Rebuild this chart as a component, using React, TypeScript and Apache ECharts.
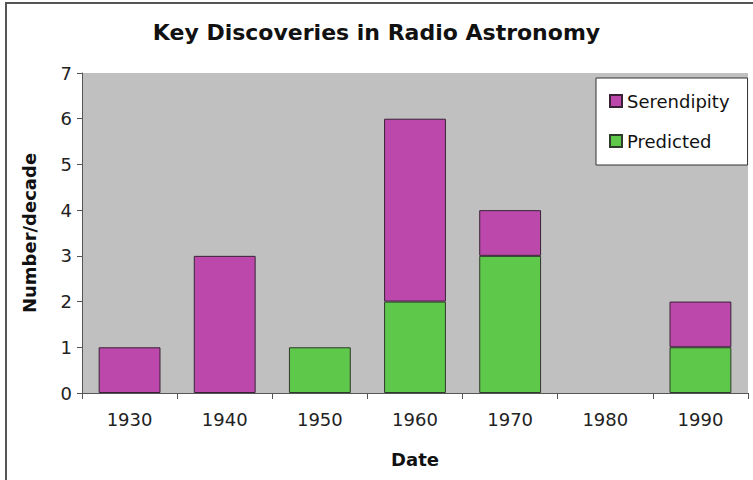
import React, { useEffect, useRef } from "react";
import * as echarts from "echarts";

const decades = ["1930", "1940", "1950", "1960", "1970", "1980", "1990"];
const predicted: (number | null)[] = [null, null, 1, 2, 3, null, 1];
const serendipity: (number | null)[] = [1, 3, null, 4, 1, null, 1];
const titleText = "Key Discoveries in Radio Astronomy";

export default function App() {
  const ref = useRef<HTMLDivElement>(null);
  useEffect(() => {
    if (!ref.current) return;
    const chart = echarts.init(ref.current, undefined, { renderer: "svg" });
    const font = "DejaVu Sans";
    chart.setOption({
      animation: false,
      backgroundColor: "#ffffff",
      title: {
        text: titleText,
        left: "center",
        top: 16,
        textStyle: { fontFamily: font, fontWeight: "bold", fontSize: 22, color: "#111" },
      },
      graphic: [
        {
          type: "rect",
          shape: { x: 6, y: 3, width: 800, height: 520 },
          style: { fill: "none", stroke: "#555", lineWidth: 2 },
          silent: true,
          z: 100,
        },
      ],
      legend: {
        data: ["Serendipity", "Predicted"],
        orient: "vertical",
        left: 596,
        top: 78,
        padding: [14, 18, 15, 13],
        itemGap: 22,
        itemWidth: 12,
        itemHeight: 12,
        icon: "rect",
        backgroundColor: "#ffffff",
        borderColor: "#333",
        borderWidth: 1,
        borderRadius: 0,
        textStyle: { fontFamily: font, fontSize: 18, color: "#111" },
      },
      grid: {
        left: 82,
        right: 5,
        top: 73,
        bottom: 87,
        show: true,
        backgroundColor: "#C0C0C0",
        borderWidth: 0,
      },
      xAxis: {
        type: "category",
        data: decades,
        name: "Date",
        nameLocation: "middle",
        nameGap: 57,
        nameTextStyle: { fontFamily: font, fontWeight: "bold", fontSize: 18, color: "#111" },
        axisLine: { show: true, lineStyle: { color: "#555", width: 1 } },
        axisTick: { show: true, length: 6, inside: false, lineStyle: { color: "#555" } },
        axisLabel: { fontFamily: font, fontSize: 18, color: "#222", margin: 17 },
      },
      yAxis: {
        type: "value",
        min: 0,
        max: 7,
        interval: 1,
        name: "Number/decade",
        nameLocation: "middle",
        nameGap: 44,
        nameRotate: 90,
        nameTextStyle: { fontFamily: font, fontWeight: "bold", fontSize: 18, color: "#111" },
        axisLine: { show: true, lineStyle: { color: "#555", width: 1 } },
        axisTick: { show: true, length: 5, inside: false, lineStyle: { color: "#555" } },
        axisLabel: { fontFamily: font, fontSize: 18, color: "#222", margin: 10 },
        splitLine: { show: false },
      },
      series: [
        {
          name: "Predicted",
          type: "bar",
          stack: "total",
          data: predicted,
          barCategoryGap: "35%",
          itemStyle: { color: "#5EC84B", borderColor: "#2e3a2a", borderWidth: 1 },
        },
        {
          name: "Serendipity",
          type: "bar",
          stack: "total",
          data: serendipity,
          barCategoryGap: "35%",
          itemStyle: { color: "#BC48AC", borderColor: "#3a2236", borderWidth: 1 },
        },
      ],
    });
    return () => chart.dispose();
  }, []);
  return <div ref={ref} style={{ width: 753, height: 480, position: "absolute", left: 0, top: 0 }} />;
}
